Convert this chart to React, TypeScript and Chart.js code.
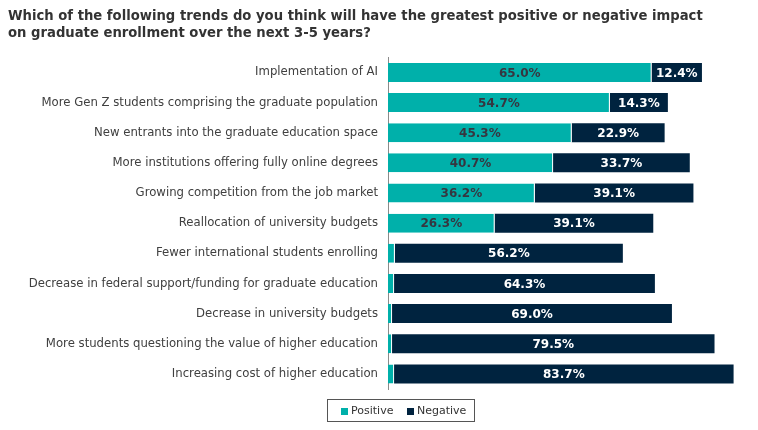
import { useEffect, useRef } from "react"
import { Chart, registerables, type ChartConfiguration, type Plugin } from "chart.js"

Chart.register(...registerables)

const categories = [
  "Implementation of AI",
  "More Gen Z students comprising the graduate population",
  "New entrants into the graduate education space",
  "More institutions offering fully online degrees",
  "Growing competition from the job market",
  "Reallocation of university budgets",
  "Fewer international students enrolling",
  "Decrease in federal support/funding for graduate education",
  "Decrease in university budgets",
  "More students questioning the value of higher education",
  "Increasing cost of higher education",
]
const positive = [65.0, 54.7, 45.3, 40.7, 36.2, 26.3, 1.7, 1.5, 1.0, 1.0, 1.5]
const negative = [12.4, 14.3, 22.9, 33.7, 39.1, 39.1, 56.2, 64.3, 69.0, 79.5, 83.7]
const seriesNames = ["Positive", "Negative"]

const CYAN = "#00b0aa"
const NAVY = "#00233f"
const FONT = "'DejaVu Sans', Verdana, sans-serif"

// value labels inside the bars (small slivers get none)
const barLabels: Plugin = {
  id: "barLabels",
  afterDatasetsDraw(chart) {
    const ctx = chart.ctx
    ctx.save()
    ctx.font = `bold 12px ${FONT}`
    ctx.textAlign = "center"
    ctx.textBaseline = "middle"
    chart.data.datasets.forEach((ds, di) => {
      const meta = chart.getDatasetMeta(di)
      meta.data.forEach((el: any, i) => {
        const v = ds.data[i] as number
        if (v < 5) return
        ctx.fillStyle = di === 0 ? "#363640" : "#ffffff"
        ctx.fillText(v.toFixed(1) + "%", (el.x + el.base) / 2, el.y + 1)
      })
    })
    ctx.restore()
  },
}

// boxed legend under the bars
const boxLegend: Plugin = {
  id: "boxLegend",
  afterDraw(chart) {
    const ctx = chart.ctx
    const left = 319
    const top = 391
    const w = 147
    const h = 22
    ctx.save()
    ctx.strokeStyle = "#555555"
    ctx.lineWidth = 1
    ctx.strokeRect(left + 0.5, top + 0.5, w, h)
    ctx.font = `11px ${FONT}`
    ctx.textBaseline = "middle"
    const items = [
      { x: left + 14, color: CYAN, text: seriesNames[0] },
      { x: left + 80, color: NAVY, text: seriesNames[1] },
    ]
    items.forEach((it) => {
      ctx.fillStyle = it.color
      ctx.fillRect(it.x, top + 9, 7, 7)
      ctx.fillStyle = "#333333"
      ctx.fillText(it.text, it.x + 10, top + 12)
    })
    ctx.restore()
  },
}

export default function App() {
  const chartRef = useRef<HTMLCanvasElement>(null)
  const chartInstance = useRef<Chart | null>(null)

  useEffect(() => {
    if (!chartRef.current) return
    if (chartInstance.current) chartInstance.current.destroy()

    const config: ChartConfiguration<"bar"> = {
      type: "bar",
      data: {
        labels: categories,
        datasets: [
          {
            label: seriesNames[0],
            data: positive,
            backgroundColor: CYAN,
            borderColor: "#ffffff",
            borderWidth: { top: 0, right: 1, bottom: 0, left: 0 },
            borderSkipped: false,
            barPercentage: 0.63,
            categoryPercentage: 1,
          },
          {
            label: seriesNames[1],
            data: negative,
            backgroundColor: NAVY,
            borderWidth: 0,
            barPercentage: 0.63,
            categoryPercentage: 1,
          },
        ],
      },
      options: {
        indexAxis: "y",
        animation: false,
        responsive: true,
        maintainAspectRatio: false,
        layout: { padding: { left: 0, right: 1, top: 0, bottom: 33 } },
        scales: {
          x: {
            stacked: true,
            display: false,
            min: 0,
            max: 89,
          },
          y: {
            stacked: true,
            afterFit: (scale) => {
              scale.width = 380
            },
            grid: { display: false },
            border: { display: true, color: "#8a8a8a", width: 1 },
            ticks: {
              padding: 2,
              color: "#404040",
              font: { family: FONT, size: 11.7 },
            },
          },
        },
        plugins: {
          legend: { display: false },
          tooltip: { enabled: false },
          title: {
            display: true,
            align: "start",
            text: [
              "Which of the following trends do you think will have the greatest positive or negative impact",
              "on graduate enrollment over the next 3-5 years?",
            ],
            color: "#333333",
            font: { family: FONT, size: 13.2, weight: "bold", lineHeight: 1.3 },
            padding: { top: 0, bottom: 15 },
          },
        },
      },
      plugins: [barLabels, boxLegend],
    }

    chartInstance.current = new Chart(chartRef.current, config)

    return () => {
      if (chartInstance.current) {
        chartInstance.current.destroy()
        chartInstance.current = null
      }
    }
  }, [])

  return (
    <div style={{ position: "relative", width: 742, height: 414 }}>
      <canvas ref={chartRef}></canvas>
    </div>
  )
}
